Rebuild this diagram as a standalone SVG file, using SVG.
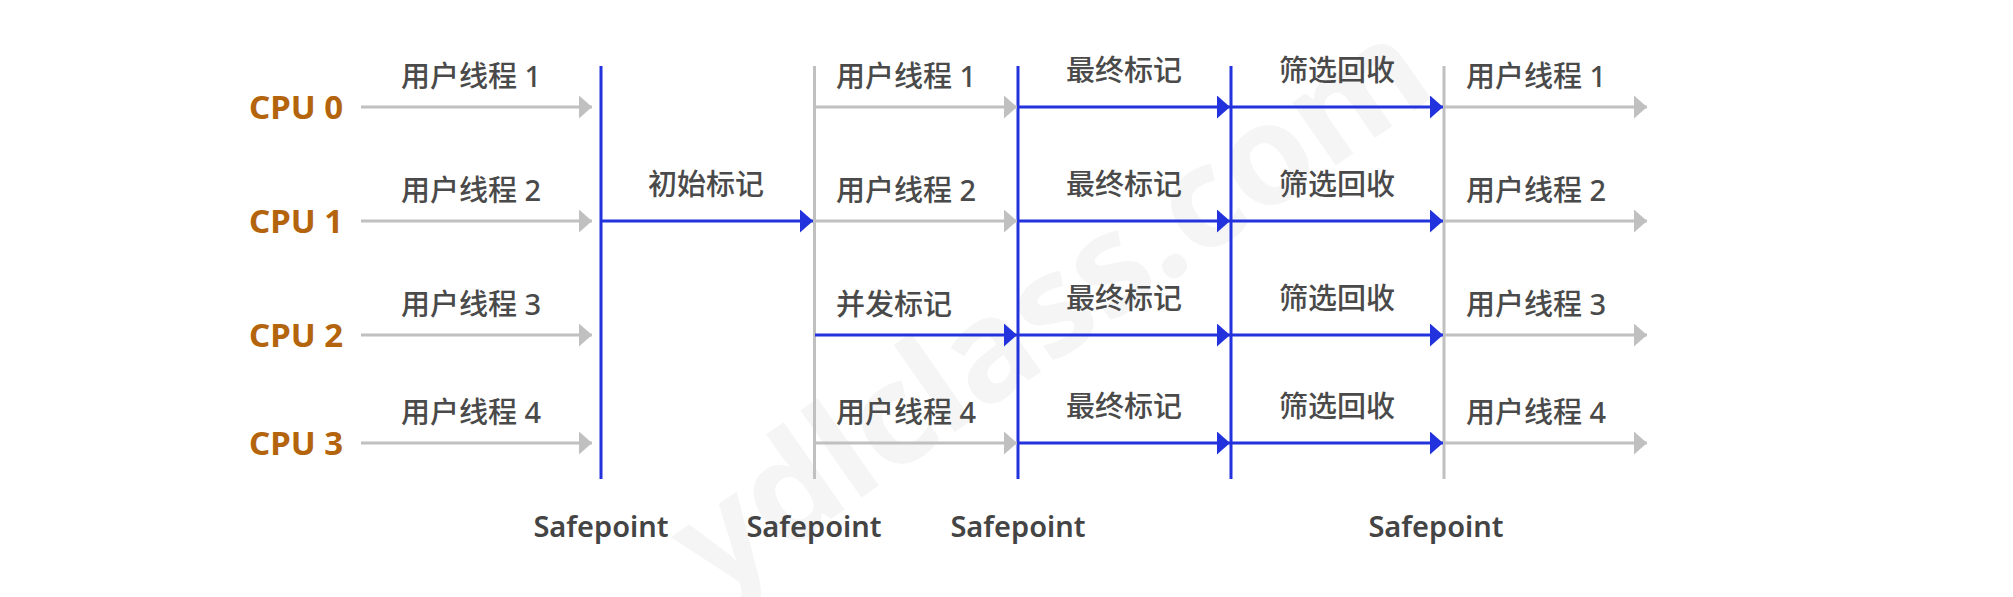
<svg xmlns="http://www.w3.org/2000/svg" width="2013" height="597" viewBox="0 0 2013 597">
<defs>
<marker id="ag" markerUnits="userSpaceOnUse" markerWidth="14" markerHeight="24" refX="13" refY="11.5" orient="auto"><path d="M0,0 L13,11.5 L0,23 z" fill="#c0c0c0"/></marker>
<marker id="ab" markerUnits="userSpaceOnUse" markerWidth="14" markerHeight="24" refX="13" refY="11.5" orient="auto"><path d="M0,0 L13,11.5 L0,23 z" fill="#2233dd"/></marker>
<style>
.g{stroke:#c0c0c0;stroke-width:3;fill:none}
.b{stroke:#2233dd;stroke-width:3;fill:none}
.ga{stroke:#c0c0c0;stroke-width:3;fill:none;marker-end:url(#ag)}
.ba{stroke:#2233dd;stroke-width:3;fill:none;marker-end:url(#ab)}
.t{font-family:"Noto Sans","Noto Sans CJK SC",sans-serif;font-size:29px;font-weight:500;fill:#4a4a4a}
.c{text-anchor:middle}
.cpu{font-family:"Noto Sans","Noto Sans CJK SC",sans-serif;font-size:33px;font-weight:700;fill:#b3640c}
.sp{font-family:"Noto Sans",sans-serif;font-size:29px;font-weight:600;fill:#444;text-anchor:middle}
.wm{font-family:"Noto Sans",sans-serif;font-size:140px;font-weight:700;fill:#f5f5f5}
</style>
</defs>
<rect width="2013" height="597" fill="#ffffff"/>
<text class="wm" transform="translate(715,600) rotate(-35)">ydlclass.com</text>
<g id="safepoints">
<line id="sp1" class="b" x1="601" y1="66" x2="601" y2="479"/>
<line id="sp2" class="g" x1="814.5" y1="66" x2="814.5" y2="479"/>
<line id="sp3" class="b" x1="1018" y1="66" x2="1018" y2="479"/>
<line id="sp4" class="b" x1="1231" y1="66" x2="1231" y2="479"/>
<line id="sp5" class="g" x1="1444" y1="66" x2="1444" y2="479"/>
</g>
<g id="connectors">
<line class="ga" x1="361" y1="107" x2="592" y2="107"/>
<line class="ga" x1="815" y1="107" x2="1017" y2="107"/>
<line class="ba" x1="1018" y1="107" x2="1230" y2="107"/>
<line class="ba" x1="1231" y1="107" x2="1443" y2="107"/>
<line class="ga" x1="1444" y1="107" x2="1647" y2="107"/>
<line class="ga" x1="361" y1="221" x2="592" y2="221"/>
<line class="ba" x1="601" y1="221" x2="813" y2="221"/>
<line class="ga" x1="815" y1="221" x2="1017" y2="221"/>
<line class="ba" x1="1018" y1="221" x2="1230" y2="221"/>
<line class="ba" x1="1231" y1="221" x2="1443" y2="221"/>
<line class="ga" x1="1444" y1="221" x2="1647" y2="221"/>
<line class="ga" x1="361" y1="335" x2="592" y2="335"/>
<line class="ba" x1="815" y1="335" x2="1017" y2="335"/>
<line class="ba" x1="1018" y1="335" x2="1230" y2="335"/>
<line class="ba" x1="1231" y1="335" x2="1443" y2="335"/>
<line class="ga" x1="1444" y1="335" x2="1647" y2="335"/>
<line class="ga" x1="361" y1="443" x2="592" y2="443"/>
<line class="ga" x1="815" y1="443" x2="1017" y2="443"/>
<line class="ba" x1="1018" y1="443" x2="1230" y2="443"/>
<line class="ba" x1="1231" y1="443" x2="1443" y2="443"/>
<line class="ga" x1="1444" y1="443" x2="1647" y2="443"/>
</g>
<g id="cpu0"><text class="cpu" x="249" y="119">CPU 0</text></g>
<g id="cpu1"><text class="cpu" x="249" y="233">CPU 1</text></g>
<g id="cpu2"><text class="cpu" x="249" y="347">CPU 2</text></g>
<g id="cpu3"><text class="cpu" x="249" y="455">CPU 3</text></g>
<g id="labels">
<text class="t" x="401" y="87">用户线程 1</text>
<text class="t" x="836" y="87">用户线程 1</text>
<text class="t c" x="1124" y="81">最终标记</text>
<text class="t c" x="1337" y="81">筛选回收</text>
<text class="t" x="1466" y="87">用户线程 1</text>
<text class="t" x="401" y="201">用户线程 2</text>
<text class="t c" x="706" y="195">初始标记</text>
<text class="t" x="836" y="201">用户线程 2</text>
<text class="t c" x="1124" y="195">最终标记</text>
<text class="t c" x="1337" y="195">筛选回收</text>
<text class="t" x="1466" y="201">用户线程 2</text>
<text class="t" x="401" y="315">用户线程 3</text>
<text class="t" x="836" y="315">并发标记</text>
<text class="t c" x="1124" y="309">最终标记</text>
<text class="t c" x="1337" y="309">筛选回收</text>
<text class="t" x="1466" y="315">用户线程 3</text>
<text class="t" x="401" y="423">用户线程 4</text>
<text class="t" x="836" y="423">用户线程 4</text>
<text class="t c" x="1124" y="417">最终标记</text>
<text class="t c" x="1337" y="417">筛选回收</text>
<text class="t" x="1466" y="423">用户线程 4</text>
</g>
<g id="safepoint-labels">
<text class="sp" x="601" y="537">Safepoint</text>
<text class="sp" x="814" y="537">Safepoint</text>
<text class="sp" x="1018" y="537">Safepoint</text>
<text class="sp" x="1436" y="537">Safepoint</text>
</g>
</svg>
